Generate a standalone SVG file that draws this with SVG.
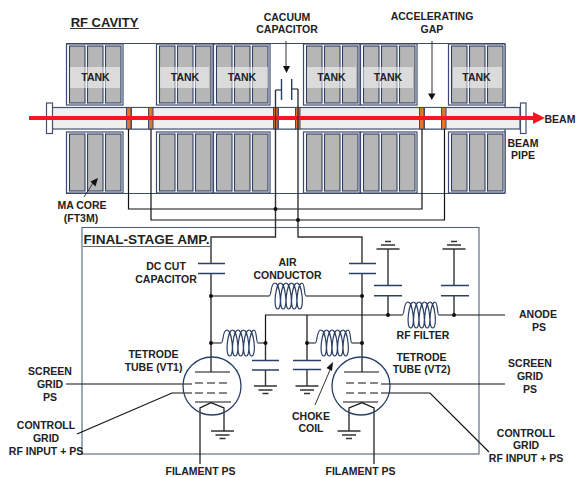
<svg xmlns="http://www.w3.org/2000/svg" width="576" height="477" viewBox="0 0 576 477">
<style>
text{font-family:"Liberation Sans",Arial,sans-serif;font-weight:700;font-size:10.500px;fill:#222;text-anchor:middle}
.w{fill:none;stroke:#111;stroke-width:1.2}
.g{fill:none;stroke:#333;stroke-width:1.4}
.p{fill:none;stroke:#2c3f66;stroke-width:1.4}
.c{fill:none;stroke:#2c3f66;stroke-width:1.2}
.d{stroke-dasharray:8 4}
.dot{fill:#111}
.h{fill:#111}
.ov{fill:#fff;fill-opacity:.5}
.tube{fill:none;stroke:#2c3f66;stroke-width:1.3}
.gap{fill:#e2752a;stroke:#3e4a6b;stroke-width:1}
</style>
<defs>
<pattern id="ck" width="2" height="2" patternUnits="userSpaceOnUse"><rect width="2" height="2" fill="#d2d2d2"/><rect width="1" height="1" fill="#999"/><rect x="1" y="1" width="1" height="1" fill="#999"/></pattern>
<g id="block"><rect x=".5" y=".5" width="56.500" height="61" fill="#fff" stroke="#3e4a6b" stroke-width="1.2"/><g fill="url(#ck)" stroke="#2f3e63" stroke-width="1.1"><rect x="3.500" y="2.500" width="15.500" height="57"/><rect x="21.500" y="2.500" width="15.500" height="57"/><rect x="39.500" y="2.500" width="15.500" height="57"/></g></g>
<path id="coil" d="M0,13C3,13 1,0 6,0C11,0 13.700,26 8.700,26C3.700,26 6.500,0 11.500,0C16.500,0 19.200,26 14.200,26C9.200,26 12,0 17,0C22,0 24.700,26 19.700,26C14.700,26 17.500,0 22.500,0C27.500,0 30.200,26 25.200,26C20.200,26 23,0 28,0C33,0 35.700,26 30.700,26C25.700,26 28.500,0 33,0C36,0 35,13 37,13" class="c"/>
<path id="gnd" d="M-11.500,0H11.500M-7,4H7M-3,7.500H3" class="g"/>
</defs>
<g id="rf-cavity">
<path d="M66,43.500H505M66,193.500H505M505,43.500V193" fill="none" stroke="#3e4a6b" stroke-width="1.2"/>
<g id="tanks-top">
<use href="#block" x="66" y="43.500"/><use href="#block" x="156" y="43.500"/><use href="#block" x="213" y="43.500"/><use href="#block" x="303" y="43.500"/><use href="#block" x="360" y="43.500"/><use href="#block" x="448" y="43.500"/>
</g>
<g id="cores-bottom">
<use href="#block" x="66" y="131.500"/><use href="#block" x="156" y="131.500"/><use href="#block" x="213" y="131.500"/><use href="#block" x="303" y="131.500"/><use href="#block" x="360" y="131.500"/><use href="#block" x="448" y="131.500"/>
</g>
<rect class="ov" x="70" y="67" width="50" height="21"/><rect class="ov" x="160" y="67" width="49" height="21"/><rect class="ov" x="217" y="67" width="51" height="21"/><rect class="ov" x="307" y="67" width="49" height="21"/><rect class="ov" x="363" y="67" width="50" height="21"/><rect class="ov" x="453" y="67" width="49" height="21"/>
<text x="95.500" y="81">TANK</text><text x="185" y="81">TANK</text><text x="242" y="81">TANK</text><text x="331.500" y="81">TANK</text><text x="388" y="81">TANK</text><text x="476.500" y="81">TANK</text>
</g>
<g id="beam-pipe">
<rect x="52" y="107.500" width="468" height="21.500" fill="#efefef" stroke="#44506e" stroke-width="1.200"/>
<rect x="46.500" y="103" width="6" height="30.500" fill="#fff" stroke="#44506e" stroke-width="1.200"/>
<rect x="520.500" y="103" width="5.500" height="30.500" fill="#fff" stroke="#44506e" stroke-width="1.200"/>
<rect x="131.500" y="107.500" width="17" height="21.500" fill="#fff" stroke="#44506e"/><rect x="278.500" y="107.500" width="17" height="21.500" fill="#fff" stroke="#44506e"/><rect x="424.500" y="107.500" width="17" height="21.500" fill="#fff" stroke="#44506e"/>
<rect class="gap" x="126.500" y="107.500" width="4.500" height="21.500"/><rect class="gap" x="148.500" y="107.500" width="4.500" height="21.500"/><rect class="gap" x="273.500" y="107.500" width="4.500" height="21.500"/><rect class="gap" x="295.500" y="107.500" width="4.500" height="21.500"/><rect class="gap" x="419.500" y="107.500" width="4.500" height="21.500"/><rect class="gap" x="441.500" y="107.500" width="4.500" height="21.500"/>
</g>
<g id="beam"><path d="M29,118H535" stroke="#fa1420" stroke-width="4" fill="none"/><path d="M533,112L545,118L533,124Z" fill="#fa1420"/></g>
<rect id="amp-box" x="82" y="227.500" width="397" height="226.500" fill="none" stroke="#55617f" stroke-width="1.100"/>
<g id="connectors">
<path class="w" d="M128.500,129V209H422V129M151,129V220H444.500V129"/>
<path class="g" d="M275.500,90V237H211V263M211,273V372M298,89V237H362V263M362,273V372"/>
<path class="w" d="M275.500,90H281.500M291.500,89H298"/>
<path class="p" d="M281.500,79V100M291.700,79V100M198,263.500H225M198,273.500H225M349,263.500H376M349,273.500H376"/>
<path class="w" d="M211,296H269M306,296H362M265.500,343V315H402M439,315H505M211,343H221M258,343H265.500M307,315V343H315M352,343H362"/>
<path class="g" d="M265.500,343V360M265.500,370V386M307,343V360M307,370V386M388,249V285M388,296V315M454,249V285M454,296V315"/>
<path class="p" d="M252,360.500H279M252,370H279M293,360.500H321M293,369.500H321M374,285.500H402M374,295.700H402M441,285.500H469M441,295.700H469"/>
<use href="#coil" x="269" y="283"/><use href="#coil" x="402" y="302"/><use href="#coil" x="221" y="330"/><use href="#coil" x="315" y="330"/>
<use href="#gnd" x="265.500" y="386"/><use href="#gnd" x="307" y="386"/><use href="#gnd" transform="translate(388 249) scale(1 -1)"/><use href="#gnd" transform="translate(454 249) scale(1 -1)"/>
<use href="#gnd" x="222.500" y="431"/><use href="#gnd" x="349" y="431"/>
<path class="w" d="M66,384H192M77,434L172,393H192M381,384H505M381,393H430L489,452M200,464V408L211,402.700L224,408V431M349,431V408L362,402.700L374,408V464"/>
<g class="dot"><circle cx="275.500" cy="209" r="2"/><circle cx="298" cy="220" r="2"/><circle cx="211" cy="296" r="2"/><circle cx="362" cy="296" r="2"/><circle cx="211" cy="343" r="2"/><circle cx="265.500" cy="343" r="2"/><circle cx="307" cy="343" r="2"/><circle cx="362" cy="343" r="2"/><circle cx="388" cy="315" r="2"/><circle cx="454" cy="315" r="2"/></g>
<path class="g" style="stroke-width:1" d="M286,41V66M432,41V94M84,197L93,183M315,405L330,370"/>
<path class="h" d="M283,66H290L286.500,73ZM428,93.500H435.500L431.800,100ZM98,178L90.500,181.500L95.500,186.500ZM333,362L326.500,368L332,371Z"/>
</g>
<g id="tube-vt1">
<circle class="tube" cx="212" cy="386" r="29"/>
<path class="w" d="M195,372H230M195,402H231"/><path class="w d" d="M195,383H228M195,393H228"/>
</g>
<g id="tube-vt2">
<circle class="tube" cx="361" cy="386" r="29"/>
<path class="w" d="M344,372H379M343,402H378"/><path class="w d" d="M346,383H381M346,393H381"/>
</g>
<g id="labels">
<text x="104.500" y="27" style="font-size:13px">RF CAVITY</text><path d="M70,28.500H139" stroke="#333" fill="none"/>
<text x="146.500" y="244" style="font-size:13.600px">FINAL-STAGE AMP.</text><path d="M83,246.500H210" stroke="#666" fill="none"/>
<text x="287" y="20.500">CACUUM</text><text x="287" y="33">CAPACITOR</text>
<text x="432" y="20">ACCELERATING</text><text x="432" y="33">GAP</text>
<text x="560" y="123">BEAM</text><text x="523" y="146.700">BEAM</text><text x="523" y="159">PIPE</text>
<text x="82" y="208.700">MA CORE</text><text x="81" y="221.500">(FT3M)</text>
<text x="166" y="270">DC CUT</text><text x="166" y="283">CAPACITOR</text>
<text x="287.500" y="266">AIR</text><text x="287.500" y="279">CONDUCTOR</text>
<text x="153.500" y="358">TETRODE</text><text x="153.500" y="371">TUBE (VT1)</text>
<text x="421.500" y="360.500">TETRODE</text><text x="421.500" y="373">TUBE (VT2)</text>
<text x="50" y="375">SCREEN</text><text x="50" y="388">GRID</text><text x="50" y="400.500">PS</text>
<text x="46" y="429">CONTROLL</text><text x="46" y="442">GRID</text><text x="46" y="454.500">RF INPUT + PS</text>
<text x="200.500" y="475">FILAMENT PS</text><text x="360.500" y="475">FILAMENT PS</text>
<text x="423" y="339">RF FILTER</text>
<text x="538" y="318">ANODE</text><text x="539" y="330.700">PS</text>
<text x="530" y="367">SCREEN</text><text x="530" y="380">GRID</text><text x="530" y="392.500">PS</text>
<text x="311" y="419.500">CHOKE</text><text x="311" y="432">COIL</text>
<text x="526" y="436.700">CONTROLL</text><text x="526" y="449">GRID</text><text x="526" y="461.700">RF INPUT + PS</text>
</g>
</svg>
